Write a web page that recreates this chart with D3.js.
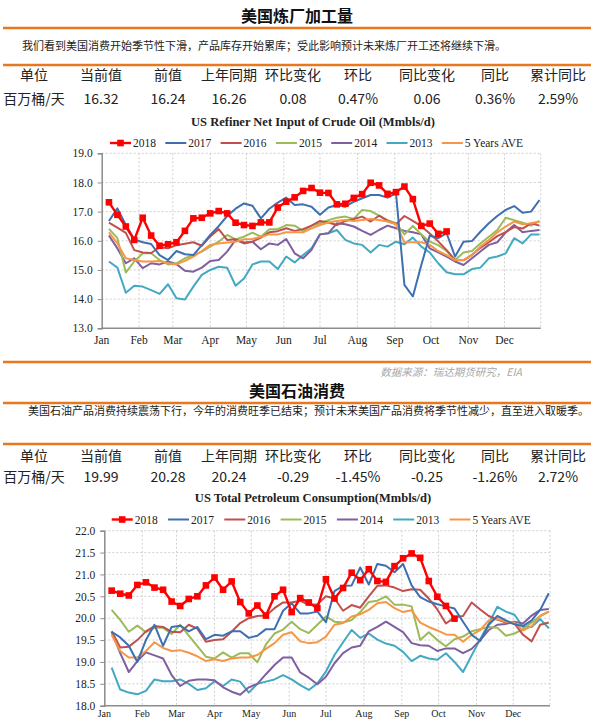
<!DOCTYPE html>
<html><head><meta charset="utf-8">
<script src="https://cdn.jsdelivr.net/npm/d3@7"></script>
<style>body{margin:0;background:#fff;} svg{display:block;}</style>
</head><body>
<svg id="c" width="594" height="720"></svg>
<script>
// ---------- data ----------
const seriesNames = ["2018", "2017", "2016", "2015", "2014", "2013", "5 Years AVE"];
const seriesColors = ["#FF0000", "#3E6FB0", "#C0504D", "#9BBB59", "#7F5F9F", "#43A9C2", "#F79646"];
const monthLabels = ["Jan", "Feb", "Mar", "Apr", "May", "Jun", "Jul", "Aug", "Sep", "Oct", "Nov", "Dec"];

// Chart 1: US Refiner Net Input of Crude Oil (Mmbls/d), weekly
const ref2018 = [17.32, 16.89, 16.49, 16.03, 16.79, 16.18, 15.83, 15.88, 15.95, 16.34, 16.77, 16.79, 16.94, 17.02, 16.94, 16.62, 16.54, 16.51, 16.63, 16.63, 17.14, 17.34, 17.49, 17.71, 17.81, 17.65, 17.64, 17.25, 17.27, 17.47, 17.6, 17.99, 17.9, 17.61, 17.67, 17.86, 17.43, 16.51, 16.59, 16.24, 16.32];
const ref2017 = [16.68, 17.11, 16.54, 16.05, 15.95, 15.89, 15.51, 15.34, 15.65, 15.54, 15.51, 15.85, 16.2, 16.5, 16.85, 17.1, 17.28, 17.2, 16.77, 17.1, 17.31, 17.48, 17.23, 17.25, 17.17, 16.89, 17.14, 17.23, 17.17, 17.34, 17.46, 17.57, 17.57, 17.48, 17.63, 14.49, 14.09, 15.17, 16.18, 16.09, 16.26, 15.46, 15.97, 15.99, 16.31, 16.6, 16.85, 17.06, 17.19, 16.96, 17.0, 17.4];
const ref2016 = [16.62, 16.45, 16.27, 15.68, 15.6, 15.58, 15.78, 15.74, 15.85, 15.9, 15.95, 15.83, 16.15, 16.4, 16.03, 16.05, 15.94, 15.97, 16.11, 16.29, 16.33, 16.43, 16.34, 16.4, 16.52, 16.68, 16.63, 16.54, 16.68, 16.75, 16.83, 16.66, 16.86, 16.68, 16.57, 16.85, 16.68, 16.5, 16.25, 15.98, 15.68, 15.34, 15.33, 15.52, 15.76, 15.95, 16.16, 16.3, 16.47, 16.42, 16.6, 16.52];
const ref2015 = [16.41, 16.09, 14.91, 15.29, 15.57, 15.57, 15.34, 15.19, 15.23, 15.4, 15.51, 15.63, 15.8, 15.97, 16.2, 16.05, 16.14, 16.28, 16.14, 16.4, 16.4, 16.54, 16.52, 16.34, 16.52, 16.6, 16.71, 16.79, 16.83, 16.75, 17.06, 17.02, 16.86, 16.71, 16.6, 16.22, 16.51, 16.22, 15.97, 15.85, 15.65, 15.34, 15.6, 15.65, 15.91, 16.14, 16.37, 16.79, 16.71, 16.62, 16.52, 16.68];
const ref2014 = [16.18, 15.74, 15.23, 15.4, 15.06, 15.23, 15.19, 15.29, 15.2, 14.97, 14.94, 15.08, 15.31, 15.34, 15.63, 16.03, 15.91, 15.97, 15.71, 15.91, 15.86, 16.06, 15.57, 15.4, 15.69, 16.22, 16.26, 16.6, 16.57, 16.49, 16.34, 16.2, 16.37, 16.52, 16.43, 16.34, 16.29, 16.22, 15.74, 15.6, 15.46, 15.29, 15.17, 15.4, 15.63, 15.86, 15.95, 16.29, 16.54, 16.29, 16.34, 16.37];
const ref2013 = [15.29, 15.08, 14.22, 14.46, 14.43, 14.31, 14.18, 14.51, 14.03, 13.99, 14.43, 14.83, 15.0, 15.11, 15.08, 14.46, 14.71, 15.19, 15.29, 15.29, 15.03, 15.46, 15.26, 15.51, 15.74, 16.22, 16.26, 16.37, 16.03, 15.91, 15.86, 15.6, 15.86, 15.8, 15.97, 15.88, 16.11, 15.8, 15.6, 15.23, 14.92, 14.85, 14.85, 15.03, 15.08, 15.4, 15.46, 15.57, 16.09, 15.91, 16.22, 16.22];
const refAvg = [16.29, 15.91, 15.4, 15.34, 15.29, 15.29, 15.31, 15.23, 15.19, 15.31, 15.46, 15.65, 15.86, 15.91, 15.94, 15.97, 16.05, 16.06, 16.14, 16.22, 16.22, 16.29, 16.29, 16.29, 16.43, 16.54, 16.63, 16.68, 16.71, 16.68, 16.71, 16.75, 16.71, 16.66, 16.57, 15.95, 15.95, 15.95, 15.86, 15.65, 15.51, 15.34, 15.34, 15.51, 15.8, 16.03, 16.29, 16.49, 16.66, 16.57, 16.6, 16.66];
const refTicks = [13.0, 14.0, 15.0, 16.0, 17.0, 18.0, 19.0];

// Chart 2: US Total Petroleum Consumption (Mmbls/d), weekly
const con2018 = [20.63, 20.56, 20.52, 20.76, 20.82, 20.70, 20.65, 20.38, 20.28, 20.44, 20.50, 20.75, 20.93, 20.65, 20.84, 20.37, 20.11, 20.29, 20.06, 20.50, 20.65, 20.14, 20.46, 20.36, 20.23, 20.89, 20.45, 20.69, 21.04, 20.87, 21.12, 20.85, 20.83, 21.19, 21.37, 21.48, 21.38, 20.85, 20.49, 20.28, 19.99];
const con2017 = [19.69, 19.56, 19.37, 19.0, 19.5, 19.85, 19.37, 19.8, 19.83, 19.7, 19.8, 19.52, 19.62, 19.6, 19.7, 19.7, 19.55, 19.6, 19.75, 19.75, 20.17, 20.34, 20.11, 20.11, 20.15, 19.91, 20.62, 20.74, 20.75, 21.16, 20.77, 21.24, 21.2, 21.05, 21.24, 20.75, 20.48, 20.38, 20.32, 20.27, 20.22, 19.92, 19.62, 19.48, 19.85, 20.05, 19.95, 19.86, 19.82, 19.95, 20.19, 20.57];
const con2016 = [19.7, 19.33, 19.35, 19.5, 19.7, 19.82, 19.8, 19.69, 19.68, 19.85, 19.76, 19.46, 19.5, 19.52, 19.69, 19.89, 20.0, 20.05, 20.06, 20.23, 20.36, 20.36, 20.4, 20.3, 20.32, 20.5, 20.45, 20.17, 20.3, 20.24, 20.5, 20.74, 20.75, 20.7, 20.62, 20.66, 20.65, 20.45, 20.2, 19.88, 20.02, 20.05, 20.36, 20.2, 20.05, 19.97, 19.9, 19.88, 19.62, 19.47, 19.85, 19.9];
const con2015 = [20.19, 19.96, 19.69, 19.83, 19.68, 19.78, 19.78, 19.64, 19.85, 19.6, 19.36, 19.12, 19.08, 19.22, 19.1, 19.2, 19.2, 18.99, 19.4, 19.65, 19.74, 19.92, 19.75, 19.66, 19.85, 20.04, 19.92, 19.9, 19.96, 20.14, 20.37, 20.4, 20.5, 20.31, 20.31, 20.27, 19.5, 19.68, 19.5, 19.36, 19.52, 19.58, 19.7, 19.75, 19.8, 19.78, 19.6, 19.65, 19.75, 19.9, 20.05, 20.15];
const con2014 = [19.69, 19.2, 18.77, 19.02, 19.22, 19.15, 19.08, 18.7, 18.45, 18.57, 18.6, 18.6, 18.58, 18.42, 18.32, 18.25, 18.42, 18.5, 18.72, 18.93, 19.1, 19.1, 18.76, 18.64, 18.49, 18.66, 18.97, 19.2, 19.33, 19.37, 19.7, 19.8, 19.92, 19.8, 19.68, 19.43, 19.38, 19.37, 19.25, 19.31, 19.31, 19.2, 19.3, 19.5, 19.73, 19.85, 19.87, 19.92, 19.88, 20.06, 20.19, 20.21];
const con2013 = [18.87, 18.37, 18.3, 18.26, 18.34, 18.6, 18.56, 18.56, 18.6, 18.5, 18.36, 18.4, 18.56, 18.45, 18.6, 18.55, 18.3, 18.5, 18.55, 18.6, 18.7, 18.6, 18.47, 18.36, 18.51, 18.78, 19.16, 19.45, 19.73, 19.55, 19.65, 19.51, 19.42, 19.37, 19.23, 19.02, 19.14, 19.08, 19.05, 19.2, 19.0, 18.77, 19.15, 19.52, 19.88, 20.26, 20.15, 20.08, 19.8, 19.8, 19.98, 19.77];
const conAvg = [19.62, 19.25, 19.1, 19.1, 19.25, 19.45, 19.32, 19.25, 19.27, 19.21, 19.13, 19.02, 19.06, 19.02, 19.08, 19.1, 19.1, 19.16, 19.3, 19.43, 19.62, 19.68, 19.47, 19.43, 19.45, 19.58, 19.85, 19.89, 20.04, 20.09, 20.19, 20.34, 20.37, 20.23, 20.14, 20.18, 19.9, 19.8, 19.72, 19.63, 19.62, 19.46, 19.62, 19.73, 19.95, 19.98, 19.92, 19.9, 19.72, 19.82, 20.05, 20.15];
const conTicks = [18.0, 18.5, 19.0, 19.5, 20.0, 20.5, 21.0, 21.5, 22.0];

// Header texts and tables
const section1Title = "美国炼厂加工量";
const section1Desc = "我们看到美国消费开始季节性下滑，产品库存开始累库；受此影响预计未来炼厂开工还将继续下滑。";
const tableHeaders = ["单位", "当前值", "前值", "上年同期", "环比变化", "环比", "同比变化", "同比", "累计同比"];
const table1Values = ["百万桶/天", "16.32", "16.24", "16.26", "0.08", "0.47%", "0.06", "0.36%", "2.59%"];
const chart1Title = "US Refiner Net Input of Crude Oil (Mmbls/d)";
const sourceText = "数据来源：瑞达期货研究，EIA";
const section2Title = "美国石油消费";
const section2Desc = "美国石油产品消费持续震荡下行，今年的消费旺季已结束；预计未来美国产品消费将季节性减少，直至进入取暖季。";
const table2Values = ["百万桶/天", "19.99", "20.28", "20.24", "-0.29", "-1.45%", "-0.25", "-1.26%", "2.72%"];
const chart2Title = "US Total Petroleum Consumption(Mmbls/d)";

// ---------- drawing ----------
const svg = d3.select("#c");
const ORANGE = "#E8771E";
const CJK = "'Noto Sans CJK SC','Noto Sans',sans-serif";
const SERIF = "'Liberation Serif','Times New Roman',serif";
const tableCols = [34, 101, 168, 229, 293, 358, 427, 495, 558];

function rule(y) {
  svg.append("line").attr("x1", 3).attr("x2", 591).attr("y1", y).attr("y2", y)
    .attr("stroke", ORANGE).attr("stroke-width", 2.5);
}
function header(cfg) {
  svg.append("text").attr("x", 297).attr("y", cfg.titleY).attr("text-anchor", "middle")
    .attr("font-family", CJK).attr("font-weight", "bold").attr("font-size", 16).attr("fill", "#111")
    .text(cfg.title);
  rule(cfg.rule1);
  svg.append("text").attr("x", cfg.descX).attr("y", cfg.descY)
    .attr("font-family", CJK).attr("font-size", 11).attr("fill", "#222").text(cfg.desc);
  rule(cfg.rule2);
  svg.append("g").selectAll("text").data(tableHeaders).join("text")
    .attr("x", (d, i) => tableCols[i]).attr("y", cfg.headY).attr("text-anchor", "middle")
    .attr("font-family", CJK).attr("font-size", 14).attr("fill", "#222").text(d => d);
  svg.append("g").selectAll("text").data(cfg.values).join("text")
    .attr("x", (d, i) => tableCols[i]).attr("y", cfg.valY).attr("text-anchor", "middle")
    .attr("font-family", CJK).attr("font-size", 14).attr("fill", "#222").text(d => d);
}

function chart(cfg) {
  const g = svg.append("g");
  const t0 = new Date(Date.UTC(2018, 0, 1)), t1 = new Date(Date.UTC(2018, 11, 31));
  const x = d3.scaleUtc().domain([t0, t1]).range([cfg.left, cfg.right]);
  const y = d3.scaleLinear().domain([cfg.ticks[0], cfg.ticks[cfg.ticks.length - 1]]).range([cfg.bottom, cfg.top]);
  const weekDate = i => d3.utcDay.offset(t0, 6 + 7 * i);
  const months = d3.utcMonth.range(t0, d3.utcDay.offset(t1, 1));

  // grid
  g.append("g").selectAll("line").data(cfg.ticks.slice(1)).join("line")
    .attr("x1", cfg.left).attr("x2", cfg.right).attr("y1", d => y(d)).attr("y2", d => y(d))
    .attr("stroke", "#CFCFCF").attr("stroke-dasharray", "2,2");
  g.append("g").selectAll("line").data(months.slice(1).concat([t1])).join("line")
    .attr("x1", d => x(d)).attr("x2", d => x(d)).attr("y1", cfg.top).attr("y2", cfg.bottom)
    .attr("stroke", "#CFCFCF").attr("stroke-dasharray", "2,2");

  // axes
  const ya = g.append("g").attr("transform", `translate(${cfg.left},0)`)
    .call(d3.axisLeft(y).tickValues(cfg.ticks).tickFormat(d3.format(".1f")).tickSize(4).tickPadding(5));
  ya.select(".domain").attr("stroke", "#8C8C8C").attr("stroke-width", 1.5);
  ya.selectAll(".tick line").attr("stroke", "#8C8C8C");
  ya.selectAll("text").attr("font-family", SERIF).attr("font-size", 11.5).attr("fill", "#222");
  g.append("line").attr("x1", cfg.left).attr("x2", cfg.right).attr("y1", cfg.bottom).attr("y2", cfg.bottom)
    .attr("stroke", "#8C8C8C").attr("stroke-width", 1.5);
  g.append("g").selectAll("text").data(months).join("text")
    .attr("x", d => x(d)).attr("y", cfg.monthY).attr("text-anchor", "middle")
    .attr("font-family", SERIF).attr("font-size", cfg.monthSize).attr("fill", "#222")
    .text((d, i) => monthLabels[i]);

  // series (draw others first, 2018 on top)
  const order = [5, 4, 3, 2, 6, 1, 0];
  const line = d3.line().x((d, i) => x(weekDate(i))).y(d => y(d));
  order.forEach(k => {
    g.append("path").datum(cfg.series[k]).attr("d", line).attr("fill", "none")
      .attr("stroke", seriesColors[k]).attr("stroke-width", k === 0 ? 2.4 : 2)
      .attr("stroke-linejoin", "round");
  });
  g.append("g").selectAll("rect").data(cfg.series[0]).join("rect")
    .attr("x", (d, i) => x(weekDate(i)) - 3.3).attr("y", d => y(d) - 3.3)
    .attr("width", 6.6).attr("height", 6.6).attr("fill", seriesColors[0]);

  // title
  g.append("text").attr("x", cfg.titleX).attr("y", cfg.titleY).attr("text-anchor", "middle")
    .attr("font-family", SERIF).attr("font-weight", "bold").attr("font-size", 12.5).attr("fill", "#222")
    .text(cfg.title);

  // legend
  seriesNames.forEach((name, k) => {
    const lx = cfg.legendX + k * cfg.legendStep;
    g.append("line").attr("x1", lx).attr("x2", lx + 21).attr("y1", cfg.legendY).attr("y2", cfg.legendY)
      .attr("stroke", seriesColors[k]).attr("stroke-width", k === 0 ? 2.4 : 2);
    if (k === 0) g.append("rect").attr("x", lx + 10.5 - 3.3).attr("y", cfg.legendY - 3.3)
      .attr("width", 6.6).attr("height", 6.6).attr("fill", seriesColors[0]);
    g.append("text").attr("x", lx + 23).attr("y", cfg.legendY + 4).attr("font-family", SERIF)
      .attr("font-size", 11.5).attr("fill", "#222").text(name);
  });
}

header({title: section1Title, titleY: 22, rule1: 28, desc: section1Desc, descX: 22, descY: 50, rule2: 65,
        headY: 80, valY: 104, values: table1Values});
chart({left: 101.7, right: 540.7, top: 153.3, bottom: 328.3, ticks: refTicks,
       series: [ref2018, ref2017, ref2016, ref2015, ref2014, ref2013, refAvg],
       title: chart1Title, titleX: 313, titleY: 126, legendX: 110, legendStep: 55.3, legendY: 143,
       monthY: 344, monthSize: 11.5});

rule(362);
svg.append("text").attr("x", 522).attr("y", 376).attr("text-anchor", "end").attr("font-family", CJK)
  .attr("font-style", "italic").attr("font-size", 10.5).attr("fill", "#A8A8A8").text(sourceText);

header({title: section2Title, titleY: 397, rule1: 403, desc: section2Desc, descX: 28, descY: 415, rule2: 444,
        headY: 461, valY: 482, values: table2Values});
chart({left: 104.3, right: 550, top: 530.7, bottom: 705.7, ticks: conTicks,
       series: [con2018, con2017, con2016, con2015, con2014, con2013, conAvg],
       title: chart2Title, titleX: 313, titleY: 502, legendX: 111.7, legendStep: 56.3, legendY: 519.5,
       monthY: 717, monthSize: 10});
</script>
</body></html>
